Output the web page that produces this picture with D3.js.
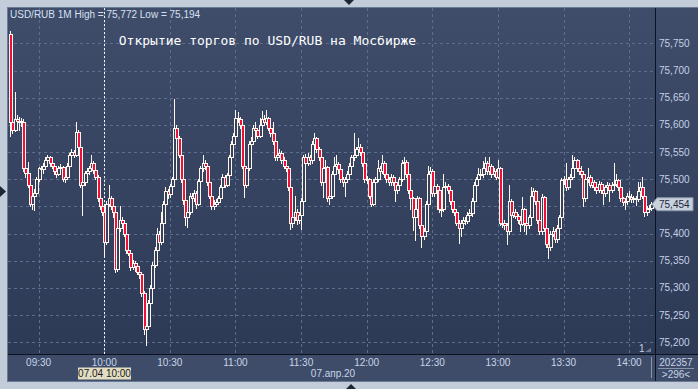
<!DOCTYPE html>
<html>
<head>
<meta charset="utf-8">
<script src="https://cdn.jsdelivr.net/npm/d3@7"></script>
<style>
  html, body { margin: 0; padding: 0; background: #c3cdd9; }
  svg { display: block; }
</style>
</head>
<body>
<div id="chart"></div>
<script>
// prices in thousandths above 75.000, one candle per minute from 09:17
const firstOpen = 768;
const closes = [
  605,590,610,607,608,605,520,512,490,455, 470,475,500,520,518,525,535,540,530,525,
  515,510,520,522,500,505,525,545,550,545, 587,560,489,495,512,515,520,530,517,505,
  465,450,440,385,455,465,450,440,335,410, 425,420,400,370,365,338,345,340,330,325,
  290,225,230,272,300,342,370,400,385,420, 455,478,472,488,500,595,575,545,500,462,
  430,440,470,465,475,455,497,520,530,525, 495,470,450,455,458,465,485,505,490,508,
  540,565,580,612,610,600,525,490,520,565, 570,595,590,580,600,610,605,612,595,585,
  570,540,545,548,535,525,520,485,420,430, 440,425,435,460,540,530,540,535,565,575,
  555,540,495,520,522,465,470,510,525,528, 518,500,495,500,510,525,540,545,555,560,
  550,530,500,500,470,455,495,500,520,515, 530,510,500,495,505,495,480,490,500,530,
  532,510,480,465,430,445,465,415,395,405, 455,510,515,475,488,480,445,445,485,488,
  480,460,445,440,420,410,420,425,423,435, 438,460,490,500,510,510,520,530,515,525,
  510,515,505,520,420,420,415,405,460,435, 440,432,425,418,445,420,415,430,470,478,
  460,425,405,468,410,380,375,400,405,390, 410,430,498,500,485,500,505,520,535,520,
  515,510,465,500,505,490,495,485,480,492, 480,475,485,490,480,490,492,498,485,465,
  458,460,470,468,463,466,464,478,485,470, 440,445,448,454
];
const highs = [
  772,612,660,618,615,612,610,528,531,495, 478,482,505,523,525,530,540,545,543,535,
  528,520,525,528,525,510,530,548,555,553, 605,590,565,500,515,520,525,545,533,520,
  508,470,455,445,460,490,470,455,445,415, 450,430,425,405,378,370,352,350,345,338,
  330,295,240,278,305,348,375,410,405,440, 460,485,482,492,505,647,600,580,548,505,
  466,445,475,475,480,478,500,525,545,535, 528,498,474,462,463,470,490,510,508,512,
  545,570,585,627,624,615,603,528,525,570, 578,600,605,595,612,625,618,628,615,600,
  605,574,550,555,552,540,530,523,488,436, 470,445,440,465,545,546,548,545,570,585,
  578,560,543,525,535,525,478,515,540,545, 532,520,505,505,515,530,545,585,560,575,
  565,555,533,506,503,474,500,505,535,525, 545,533,513,505,510,508,498,495,505,535,
  540,535,513,483,468,450,470,468,418,410, 460,525,522,518,510,492,484,452,510,495,
  492,483,463,450,443,425,425,430,430,440, 445,465,495,505,520,518,533,540,533,540,
  528,520,518,535,523,428,425,420,490,463, 448,445,436,430,468,448,425,435,485,484,
  480,463,428,472,470,413,385,405,412,408, 415,435,502,506,530,505,510,545,540,538,
  530,525,513,505,520,508,500,498,490,497, 495,485,490,495,493,495,530,510,500,488,
  468,465,475,478,472,470,470,495,495,505, 473,450,452,458
];
const lows = [
  580,585,588,600,590,598,515,505,485,450, 445,443,470,497,510,512,520,530,525,520,
  510,505,507,515,496,494,502,520,540,540, 543,555,485,434,490,508,510,517,512,500,
  460,445,435,360,380,450,445,430,330,332, 405,412,395,365,360,333,335,332,325,318,
  285,215,195,225,268,295,338,365,378,380, 415,450,465,468,484,496,570,540,495,455,
  415,412,436,458,460,448,452,494,515,518, 490,465,445,446,450,455,462,482,485,487,
  505,536,560,577,605,595,520,468,485,517, 560,566,585,575,577,596,600,602,590,580,
  565,535,535,540,530,520,515,480,408,412, 425,418,420,408,456,525,526,528,530,560,
  550,535,490,467,515,460,455,466,505,520, 512,495,488,470,495,505,520,535,540,550,
  545,525,495,493,465,450,452,490,496,510, 512,505,495,490,490,490,460,475,485,496,
  525,505,475,445,406,388,440,410,375,390, 400,450,505,470,470,445,440,432,442,480,
  475,455,440,435,415,383,395,415,418,420, 428,433,455,485,495,500,505,515,510,510,
  505,506,500,502,415,412,408,380,400,430, 430,428,420,405,415,405,400,410,426,465,
  455,420,400,400,405,375,355,370,395,385, 385,405,425,492,480,482,495,500,515,515,
  510,505,450,460,495,485,485,480,475,476, 475,455,470,480,460,476,485,488,480,460,
  452,445,455,462,458,458,452,460,475,465, 432,435,440,444
];
const yTicks = [75.20, 75.25, 75.30, 75.35, 75.40, 75.45, 75.50, 75.55, 75.60, 75.65, 75.70, 75.75];
const xTickLabels = ["09:30", "10:00", "10:30", "11:00", "11:30", "12:00", "12:30", "13:00", "13:30", "14:00"];
const lastPrice = 75.454;

const W = 698, H = 389;
const plot = { left: 8, top: 8, right: 655, bottom: 354 };
const day = (h, m, s) => new Date(2020, 3, 7, h, m, s || 0);
const start = day(9, 17);

const candles = closes.map((c, i) => ({
  t: new Date(start.getTime() + i * 60000),
  o: 75 + (i ? closes[i - 1] : firstOpen) / 1000,
  h: 75 + highs[i] / 1000,
  l: 75 + lows[i] / 1000,
  c: 75 + c / 1000
}));

const ru = d3.formatLocale({ decimal: ",", thousands: " ", grouping: [3], currency: ["", ""] });
const fmt = ru.format(".3f");
const font = "Liberation Sans, Arial, sans-serif";

const svg = d3.select("#chart").append("svg").attr("width", W).attr("height", H);

const grad = svg.append("defs").append("linearGradient")
  .attr("id", "bg").attr("x1", 0).attr("y1", 0).attr("x2", 0).attr("y2", 1);
grad.append("stop").attr("offset", "0%").attr("stop-color", "#3f4d6b");
grad.append("stop").attr("offset", "100%").attr("stop-color", "#2c3a56");

// frame
svg.append("rect").attr("width", W).attr("height", H).attr("fill", "#c3cdd9");
svg.append("rect").attr("x", plot.left).attr("y", plot.top)
  .attr("width", W - plot.left).attr("height", plot.bottom - plot.top)
  .attr("fill", "url(#bg)");
svg.append("rect").attr("x", plot.left).attr("y", plot.bottom)
  .attr("width", W - plot.left).attr("height", 27)
  .attr("fill", "#3e4c69");

const x = d3.scaleTime()
  .domain([day(9, 16), day(14, 11, 50)])
  .range([plot.left, plot.right]);
const y = d3.scaleLinear()
  .domain([75.1785, 75.815])
  .range([plot.bottom, plot.top]);

const xTicks = xTickLabels.map(s => day(+s.slice(0, 2), +s.slice(3)));

// grid
const grid = svg.append("g").attr("stroke", "#5d6d8c").attr("stroke-dasharray", "3,3")
  .attr("shape-rendering", "crispEdges");
grid.selectAll(".hg").data(yTicks).enter().append("line")
  .attr("x1", plot.left).attr("x2", plot.right)
  .attr("y1", d => Math.round(y(d)) + 0.5).attr("y2", d => Math.round(y(d)) + 0.5);
grid.selectAll(".vg").data(xTicks).enter().append("line")
  .attr("y1", plot.top).attr("y2", plot.bottom)
  .attr("x1", d => Math.round(x(d)) + 0.5).attr("x2", d => Math.round(x(d)) + 0.5);

// crosshair at 10:00
const cx10 = Math.round(x(day(10, 0))) + 0.5;
svg.append("line").attr("x1", cx10).attr("x2", cx10)
  .attr("y1", plot.top).attr("y2", plot.bottom)
  .attr("stroke", "#f2f2f2").attr("stroke-dasharray", "2,2");

// candles
const cg = svg.append("g").attr("shape-rendering", "crispEdges");
candles.forEach(d => {
  const px = Math.round(x(d.t));
  cg.append("line")
    .attr("x1", px + 0.5).attr("x2", px + 0.5)
    .attr("y1", Math.round(y(d.h))).attr("y2", Math.round(y(d.l)) + 1)
    .attr("stroke", "#fff6ee");
  const top = Math.round(y(Math.max(d.o, d.c)));
  const bot = Math.round(y(Math.min(d.o, d.c)));
  cg.append("rect")
    .attr("x", px - 0.5).attr("y", top + 0.5)
    .attr("width", 3).attr("height", Math.max(1, bot - top))
    .attr("fill", d.c < d.o ? "#ee1038" : "#35435f")
    .attr("stroke", "#fff6ee");
});

// borders
svg.append("line").attr("x1", plot.left).attr("x2", W).attr("y1", plot.bottom + 0.5).attr("y2", plot.bottom + 0.5)
  .attr("stroke", "#0c1220");
svg.append("line").attr("x1", plot.right + 0.5).attr("x2", plot.right + 0.5).attr("y1", plot.top).attr("y2", 381)
  .attr("stroke", "#0c1220");
svg.append("rect").attr("x", plot.left - 0.5).attr("y", plot.top - 0.5)
  .attr("width", W - plot.left + 1).attr("height", 381 - plot.top + 1)
  .attr("fill", "none").attr("stroke", "#6b7c96");

// y axis labels (the one under the last-price tag is hidden)
const ly = y(lastPrice);
svg.append("g").selectAll("text").data(yTicks.filter(v => Math.abs(y(v) - ly) > 10)).enter().append("text")
  .attr("x", 659).attr("y", d => y(d) + 3.5)
  .attr("font-family", font).attr("font-size", 10)
  .attr("fill", "#c4d0e4")
  .text(d => fmt(d));

// x axis labels
svg.append("g").selectAll("text").data(xTicks).enter().append("text")
  .attr("x", d => x(d)).attr("y", 366).attr("text-anchor", "middle")
  .attr("font-family", font).attr("font-size", 10)
  .attr("fill", "#c8d4e8")
  .text((d, i) => xTickLabels[i]);

// cursor time label
svg.append("rect").attr("x", 78).attr("y", 367.5).attr("width", 53).attr("height", 12)
  .attr("fill", "#e2ddc2");
svg.append("text").attr("x", 104.5).attr("y", 377).attr("text-anchor", "middle")
  .attr("font-family", font).attr("font-size", 10)
  .attr("fill", "#1a1a1a").text("07.04 10:00");

svg.append("text").attr("x", 333).attr("y", 377).attr("text-anchor", "middle")
  .attr("font-family", font).attr("font-size", 10)
  .attr("fill", "#c8d4e8").text("07.апр.20");

// bottom-right counters
svg.append("line").attr("x1", 651.5).attr("x2", 651.5).attr("y1", 357).attr("y2", 378)
  .attr("stroke", "#8795ab");
svg.append("line").attr("x1", 658).attr("x2", 694).attr("y1", 368.5).attr("y2", 368.5)
  .attr("stroke", "#8795ab");
svg.append("text").attr("x", 676).attr("y", 366).attr("text-anchor", "middle")
  .attr("font-family", font).attr("font-size", 10)
  .attr("fill", "#c8d4e8").text("202357");
svg.append("text").attr("x", 676).attr("y", 378).attr("text-anchor", "middle")
  .attr("font-family", font).attr("font-size", 10)
  .attr("fill", "#c8d4e8").text(">296<");

svg.append("text").attr("x", 639).attr("y", 352)
  .attr("font-family", font).attr("font-size", 10)
  .attr("fill", "#c4cfe0").text("1");
svg.append("path").attr("d", "M645,352 L651,352 L651,348 Z").attr("fill", "#6f7d95");

// last price tag
svg.append("path")
  .attr("d", `M652,${ly} L657,${ly - 6.5} L693,${ly - 6.5} L693,${ly + 6.5} L657,${ly + 6.5} Z`)
  .attr("fill", "#c9d1dc").attr("stroke", "#8a96a8");
svg.append("text").attr("x", 659).attr("y", ly + 3.5)
  .attr("font-family", font).attr("font-size", 10)
  .attr("fill", "#1c2a40").text(fmt(lastPrice));

// header texts
svg.append("text").attr("x", 10).attr("y", 18)
  .attr("font-family", font).attr("font-size", 10)
  .attr("fill", "#d6e0f0")
  .text("USD/RUB 1M High = " + fmt(d3.max(candles, d => d.h)) + " Low = 75,194");
svg.append("text").attr("x", 267.5).attr("y", 45).attr("text-anchor", "middle")
  .attr("font-family", "DejaVu Sans Mono, monospace").attr("font-size", 13)
  .attr("fill", "#ffffff")
  .text("Открытие торгов по USD/RUB на Мосбирже");

// scroll arrows on frame
svg.append("path").attr("d", "M344,0 L354,0 L349,5 Z").attr("fill", "#1c2636");
svg.append("path").attr("d", "M0,186 L0,197 L6,191.5 Z").attr("fill", "#1c2636");
svg.append("path").attr("d", "M346,389 L356,389 L351,384 Z").attr("fill", "#1c2636");
</script>
</body>
</html>
